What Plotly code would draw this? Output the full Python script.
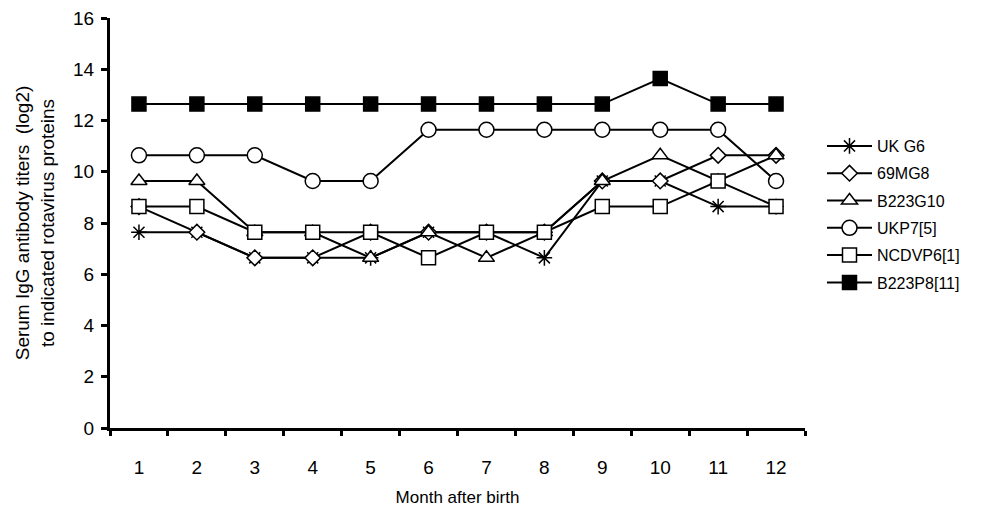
import plotly.graph_objects as go

months = [str(m) for m in range(1, 13)]
series_names = ["UK G6", "69MG8", "B223G10", "UKP7[5]", "NCDVP6[1]", "B223P8[11]"]
uk_g6 = [7.64, 7.64, 6.64, 6.64, 6.64, 7.64, 7.64, 6.64, 9.64, 9.64, 8.64, 8.64]
mg69_g8 = [8.64, 7.64, 6.64, 6.64, 7.64, 7.64, 7.64, 7.64, 9.64, 9.64, 10.64, 10.64]
b223_g10 = [9.64, 9.64, 7.64, 7.64, 6.64, 7.64, 6.64, 7.64, 9.64, 10.64, 9.64, 10.64]
ukp7 = [10.64, 10.64, 10.64, 9.64, 9.64, 11.64, 11.64, 11.64, 11.64, 11.64, 11.64, 9.64]
ncdvp6 = [8.64, 8.64, 7.64, 7.64, 7.64, 6.64, 7.64, 7.64, 8.64, 8.64, 9.64, 8.64]
b223_p8 = [12.64, 12.64, 12.64, 12.64, 12.64, 12.64, 12.64, 12.64, 12.64, 13.64, 12.64, 12.64]
y_ticks = [0, 2, 4, 6, 8, 10, 12, 14, 16]

values = [uk_g6, mg69_g8, b223_g10, ukp7, ncdvp6, b223_p8]
symbols = ["asterisk-open", "diamond", "triangle-up", "circle", "square", "square"]
sizes = [13, 12, 14, 15, 14, 14]
fills = ["black", "white", "white", "white", "white", "black"]

FONT = "Liberation Sans, Arial, sans-serif"
fig = go.Figure()
legend_top = 146
legend_step = 27.3
for i, (name, vals) in enumerate(zip(series_names, values)):
    lname = "legend" if i == 0 else f"legend{i+1}"
    fig.add_trace(go.Scatter(
        x=months, y=vals, name=name, mode="lines+markers",
        line=dict(color="black", width=2),
        marker=dict(symbol=symbols[i], size=sizes[i], color=fills[i],
                    line=dict(color="black", width=1.5)),
        legend=lname, showlegend=True,
    ))
    ypix = legend_top + i * legend_step
    fig.update_layout({lname: dict(
        x=822 / 997, y=1 - ypix / 512, xref="container", yref="container",
        xanchor="left", yanchor="middle", bgcolor="rgba(0,0,0,0)",
        font=dict(family=FONT, size=16, color="black"), itemwidth=45,
    )})

fig.update_layout(
    width=997, height=512, showlegend=True,
    margin=dict(l=110, r=192, t=18, b=84),
    paper_bgcolor="white", plot_bgcolor="white",
    font=dict(family=FONT, color="black", size=16),
    xaxis=dict(
        type="category", range=[-0.5, 11.5], tickson="boundaries", ticks="outside", ticklen=5,
        tickwidth=3, tickcolor="black", showline=True, linewidth=3, linecolor="black",
        showgrid=False, zeroline=False, ticklabelstandoff=20, automargin=False,
        tickfont=dict(size=19, family=FONT),
        title=dict(text="Month after birth", font=dict(size=17, family=FONT), standoff=15),
    ),
    yaxis=dict(
        range=[0, 16], tickvals=y_ticks, ticks="outside", ticklen=6, tickwidth=3,
        tickcolor="black", showline=True, linewidth=3, linecolor="black",
        showgrid=False, zeroline=False, tickfont=dict(size=19, family=FONT),
        ticklabelstandoff=3, automargin=False,
        title=dict(text="Serum IgG antibody titers  (log2)<br>to indicated rotavirus proteins",
                   font=dict(size=19, family=FONT), standoff=14),
    ),
)

fig.write_html("out.html")
